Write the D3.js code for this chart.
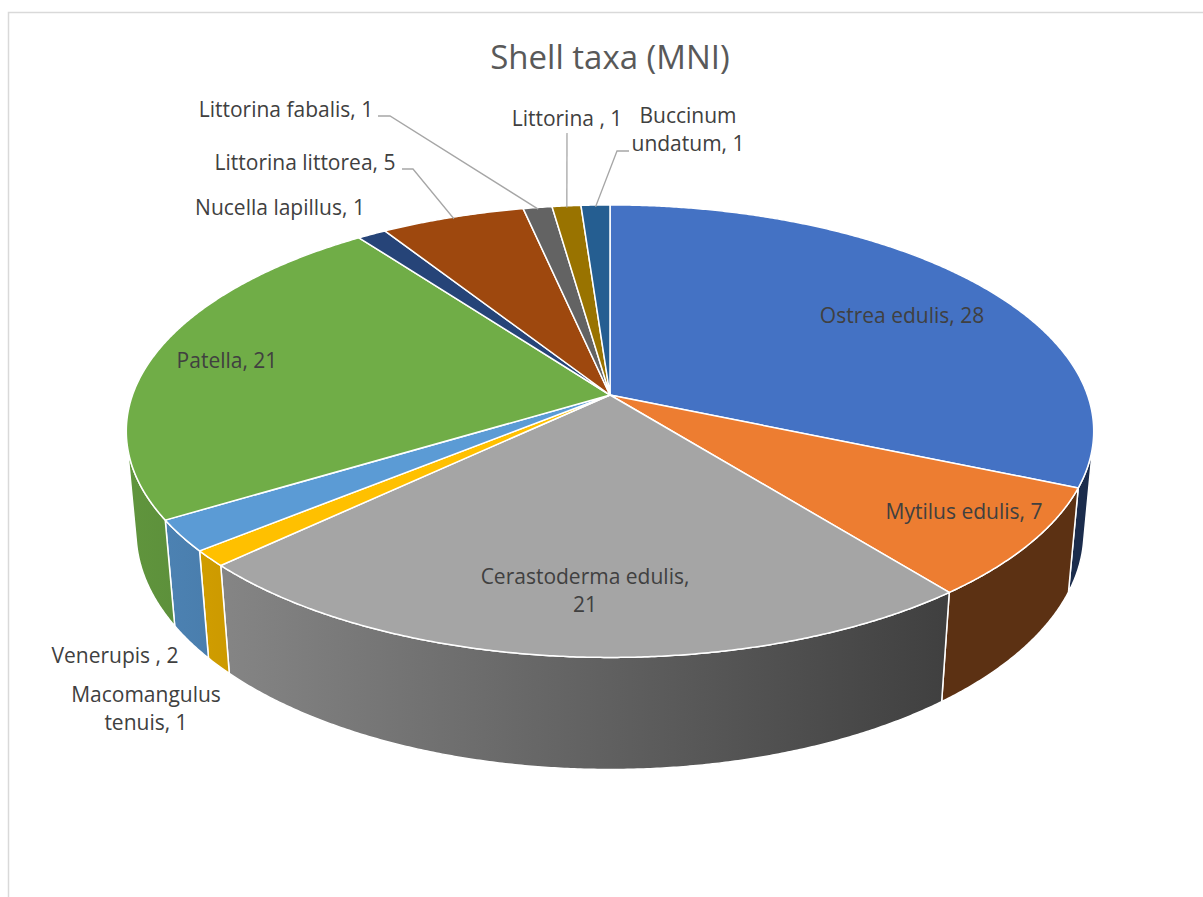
<!DOCTYPE html>
<html>
<head>
<meta charset="utf-8">
<script src="https://cdn.jsdelivr.net/npm/d3@7"></script>
<style>
  body { margin: 0; background: #fff; }
  svg text { font-family: "Open Sans", Lato, sans-serif; fill: #404040; }
</style>
</head>
<body>
<div id="chart"></div>
<script>
// data
var taxa = ["Ostrea edulis", "Mytilus edulis", "Cerastoderma edulis", "Macomangulus tenuis",
            "Venerupis ", "Patella", "Nucella lapillus", "Littorina littorea",
            "Littorina fabalis", "Littorina ", "Buccinum undatum"];
var mni = [28, 7, 21, 1, 2, 21, 1, 5, 1, 1, 1];
var colors = ["#4472C4", "#ED7D31", "#A5A5A5", "#FFC000", "#5B9BD5", "#70AD47",
              "#264478", "#9E480E", "#636363", "#997300", "#255E91"];
var TITLE = "Shell taxa (MNI)";

// label layout (text centre, line break after n words, leader elbow if any)
var labelLayout = [
  {x: 902, y: 323},
  {x: 964, y: 519},
  {x: 585, y: 584, split: 2},
  {x: 146, y: 702, split: 1},
  {x: 115, y: 663},
  {x: 227, y: 368},
  {x: 280, y: 215},
  {x: 305, y: 170, leader: [[402, 169], [413, 169]]},
  {x: 286, y: 117, leader: [[378, 116], [390, 116]]},
  {x: 567, y: 126, leader: [[567, 133]]},
  {x: 688, y: 123, split: 1, leader: [[629, 151], [617, 151]]}
];

// 3d view
var PHI = 27.5 * Math.PI / 180, S = Math.sin(PHI), C = Math.cos(PHI);
var CAM = 5.55, FOCAL = 2650, CX = 610, CY = 395, DEPTH = 0.24;

function project(a, r, y) {
  var x = r * Math.sin(a), z = -r * Math.cos(a);
  var d = CAM - y * S - z * C;
  return [CX + FOCAL * x / d, CY + FOCAL * (z * S - y * C) / d];
}

function arcPoints(a0, a1, r, y) {
  var n = Math.max(2, Math.ceil(Math.abs(a1 - a0) / 0.006));
  var pts = [];
  for (var k = 0; k <= n; k++) pts.push(project(a0 + (a1 - a0) * k / n, r, y));
  return pts;
}

var svg = d3.select("#chart").append("svg")
  .attr("width", 1203).attr("height", 897);

// chart border
svg.append("rect")
  .attr("x", 8.5).attr("y", 12.5)
  .attr("width", 1240).attr("height", 920)
  .attr("fill", "none").attr("stroke", "#d9d9d9").attr("stroke-width", 1.5);

svg.append("text")
  .attr("x", 610).attr("y", 69)
  .attr("text-anchor", "middle")
  .style("font-size", "33px")
  .style("fill", "#595959")
  .text(TITLE);

var pie = d3.pie().sort(null).startAngle(0).endAngle(2 * Math.PI);
var arcs = pie(mni);
var line = d3.line();

// gradients for the side walls, lit from the left
var defs = svg.append("defs");
function shade(col, k) {
  var c = d3.rgb(col);
  return d3.rgb(c.r * k, c.g * k, c.b * k).formatHex();
}
arcs.forEach(function(d, i) {
  var g = defs.append("linearGradient")
    .attr("id", "side" + i)
    .attr("gradientUnits", "userSpaceOnUse")
    .attr("x1", 127).attr("x2", 945).attr("y1", 0).attr("y2", 0);
  g.append("stop").attr("offset", 0).attr("stop-color", shade(colors[i], 0.86));
  g.append("stop").attr("offset", 1).attr("stop-color", shade(colors[i], 0.39));
});

// only the front facing part of the rim is visible
var faceLimit = Math.acos(-1 / (CAM * C));
var frontMin = faceLimit, frontMax = 2 * Math.PI - faceLimit;

var walls = svg.append("g");
arcs.forEach(function(d, i) {
  var a0 = Math.max(d.startAngle, frontMin), a1 = Math.min(d.endAngle, frontMax);
  if (a1 <= a0) return;
  var top = arcPoints(a0, a1, 1, 0);
  var bottom = arcPoints(a1, a0, 1, -DEPTH);
  walls.append("path")
    .attr("d", line(top.concat(bottom)) + "Z")
    .attr("fill", "url(#side" + i + ")")
    .attr("stroke", "#fff")
    .attr("stroke-width", 1.5)
    .attr("stroke-linejoin", "round");
});

var tops = svg.append("g");
arcs.forEach(function(d, i) {
  var pts = [project(0, 0, 0)].concat(arcPoints(d.startAngle, d.endAngle, 1, 0));
  tops.append("path")
    .attr("d", line(pts) + "Z")
    .attr("fill", colors[i])
    .attr("stroke", "#fff")
    .attr("stroke-width", 1.5)
    .attr("stroke-linejoin", "round");
});

// leader lines
arcs.forEach(function(d, i) {
  var lay = labelLayout[i];
  if (!lay.leader) return;
  var mid = (d.startAngle + d.endAngle) / 2;
  var pts = lay.leader.concat([project(mid, 0.99, 0)]);
  svg.append("path")
    .attr("d", line(pts))
    .attr("fill", "none")
    .attr("stroke", "#a6a6a6")
    .attr("stroke-width", 1.3);
});

// data labels
arcs.forEach(function(d, i) {
  var lay = labelLayout[i];
  var words = (taxa[i] + ", " + mni[i]).split(" ");
  var lines = lay.split ? [words.slice(0, lay.split).join(" "), words.slice(lay.split).join(" ")]
                        : [words.join(" ")];
  var t = svg.append("text")
    .attr("text-anchor", "middle")
    .style("font-size", "21px");
  lines.forEach(function(s, k) {
    t.append("tspan").attr("x", lay.x).attr("y", lay.y + k * 28).text(s);
  });
});
</script>
</body>
</html>
